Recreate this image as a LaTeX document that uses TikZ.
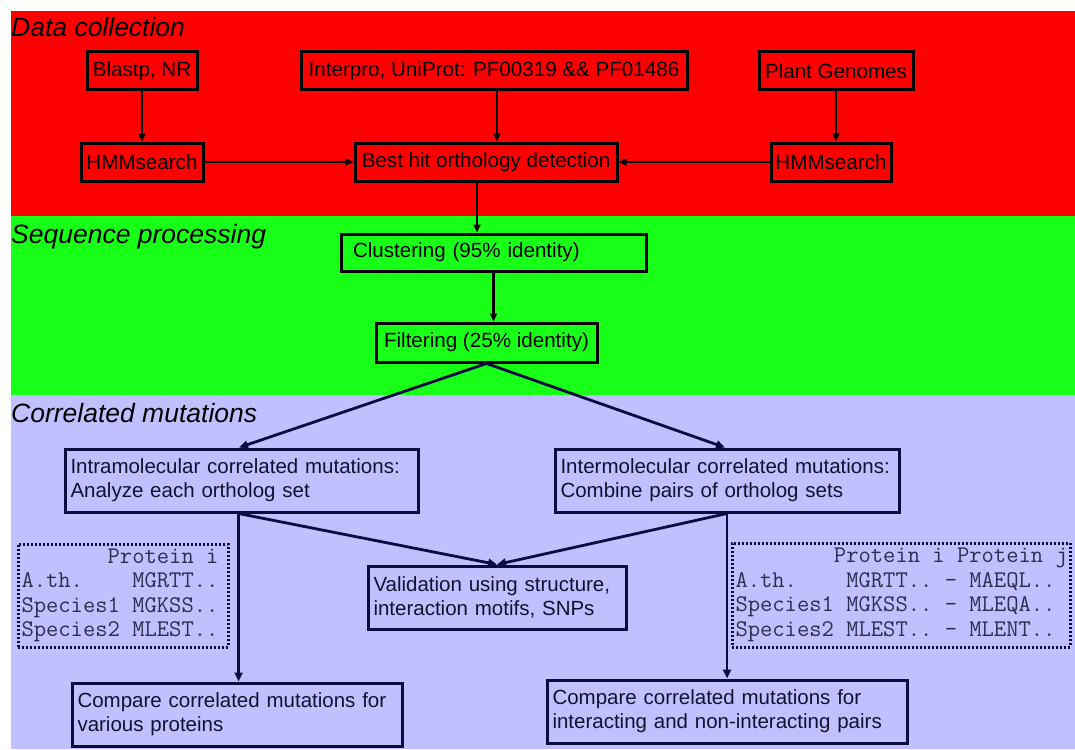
\documentclass[tikz,border=0pt]{standalone}
\usepackage{fontspec}
\setmainfont{Liberation Sans}
\usetikzlibrary{arrows.meta,calc}
\definecolor{redbg}{RGB}{255,0,0}
\definecolor{greenbg}{RGB}{24,255,24}
\definecolor{lavbg}{RGB}{192,192,255}
\definecolor{navy}{RGB}{12,12,64}
\definecolor{navytext}{RGB}{18,18,48}
\definecolor{monotext}{RGB}{45,45,80}
\newcommand\blk{\hphantom{0}}
\begin{document}
\begin{tikzpicture}[x=1pt,y=-1pt,
  secl/.style={anchor=base west, inner sep=0pt, font=\fontsize{26.5}{30}\selectfont\itshape},
  topbox/.style={draw=black, line width=3pt, inner sep=0pt, minimum height=38pt, align=center, font=\fontsize{20.6}{24}\selectfont},
  lowbox/.style={draw=navy, line width=3pt, inner xsep=5.5pt, inner ysep=0pt, minimum height=63pt, align=left, text=navytext, font=\fontsize{20.5}{24}\selectfont},
  dotbox/.style={draw=navy, line width=3pt, dash pattern=on 2pt off 2pt, inner xsep=3.5pt, inner ysep=0pt, align=left, text=monotext, font=\fontsize{23.9}{24.5}\selectfont\ttfamily},
  arr/.style={draw=black, line width=2.2pt, -{Triangle[length=8pt,width=7pt]}},
  larr/.style={draw=navy, line width=2.8pt, -{Triangle[length=9pt,width=8pt]}}
]
\useasboundingbox (0,0) rectangle (1075,749);
\fill[white] (0,0) rectangle (1075,749);
\fill[redbg] (11,11) rectangle (1075,216);
\fill[greenbg] (11,216) rectangle (1075,395);
\fill[lavbg] (11,395) rectangle (1075,749);

% section labels
\node[secl] (lab1) at (11,37) {Data collection};
\node[secl] (lab2) at (11,243) {Sequence processing};
\node[secl] (lab3) at (11,422) {Correlated mutations};

% data collection
\node[topbox, minimum width=110pt] (blast) at (142,71) {Blastp, NR};
\node[topbox, minimum width=386pt] (interpro) at (494,71) {Interpro, UniProt: PF00319 \&\& PF01486};
\node[topbox, minimum width=154pt] (plant) at (836,71) {Plant Genomes};
\node[topbox, minimum width=122pt] (hmmL) at (142,162) {HMMsearch};
\node[topbox, minimum width=262pt] (best) at (486,162) {Best hit orthology detection};
\node[topbox, minimum width=120pt] (hmmR) at (831,162) {HMMsearch};

% sequence processing
\node[topbox, minimum height=37pt, text width=281pt, inner xsep=12pt, align=left] (clust) at (493.5,252.5) {Clustering (95\% identity)};
\node[topbox, minimum width=221pt, minimum height=39pt] (filt) at (486.5,342.5) {Filtering (25\% identity)};

% correlated mutations
\node[lowbox, text width=342pt] (intra) at (241.5,480.5) {Intramolecular correlated mutations:\\Analyze each ortholog set};
\node[lowbox, text width=333pt] (inter) at (727,480.5) {Intermolecular correlated mutations:\\Combine pairs of ortholog sets};
\node[lowbox, text width=247pt] (valid) at (497,597.5) {Validation using structure,\\interaction motifs, SNPs};
\node[lowbox, text width=319pt] (cmpL) at (237,714.5) {Compare correlated mutations for\\various proteins};
\node[lowbox, text width=349pt] (cmpR) at (727,711.5) {Compare correlated mutations for\\interacting and non-interacting pairs};

\node[dotbox, text width=203pt, minimum height=103pt] (dotL) at (123,595.5)
  {\blk\blk\blk\blk\blk\blk\blk Protein\blk i\\A.th.\blk\blk\blk\blk MGRTT..\\Species1\blk MGKSS..\\Species2\blk MLEST..};
\node[dotbox, text width=331pt, minimum height=104pt] (dotR) at (901,595)
  {\blk\blk\blk\blk\blk\blk\blk\blk Protein\blk i\blk Protein\blk j\\A.th.\blk\blk\blk\blk MGRTT..\blk -\blk MAEQL..\\Species1\blk MGKSS..\blk -\blk MLEQA..\\Species2\blk MLEST..\blk -\blk MLENT..};

% connectors
\draw[arr] (blast.south) -- (blast.south |- hmmL.north);
\draw[arr] ([xshift=3pt]interpro.south) -- ([xshift=3pt]interpro.south |- best.north);
\draw[arr] (plant.south) -- (plant.south |- hmmR.north);
\draw[arr] (hmmL.east) -- (best.west);
\draw[arr] (hmmR.west) -- (best.east);
\draw[arr] ([xshift=-9pt]best.south) -- ([xshift=-9pt]best.south |- clust.north);
\draw[arr] (clust.south) -- (clust.south |- filt.north);
\draw[larr] (filt.south) -- ([xshift=-2.5pt]intra.north);
\draw[larr] (filt.south) -- ([xshift=-2pt]inter.north);
\draw[larr] ([xshift=-3pt]intra.south) -- ([xshift=-3pt]intra.south |- cmpL.north);
\draw[larr] ([xshift=-3pt]intra.south) -- (valid.north);
\draw[larr] (inter.south) -- (inter.south |- cmpR.north);
\draw[larr] (inter.south) -- (valid.north);
\end{tikzpicture}
\end{document}
